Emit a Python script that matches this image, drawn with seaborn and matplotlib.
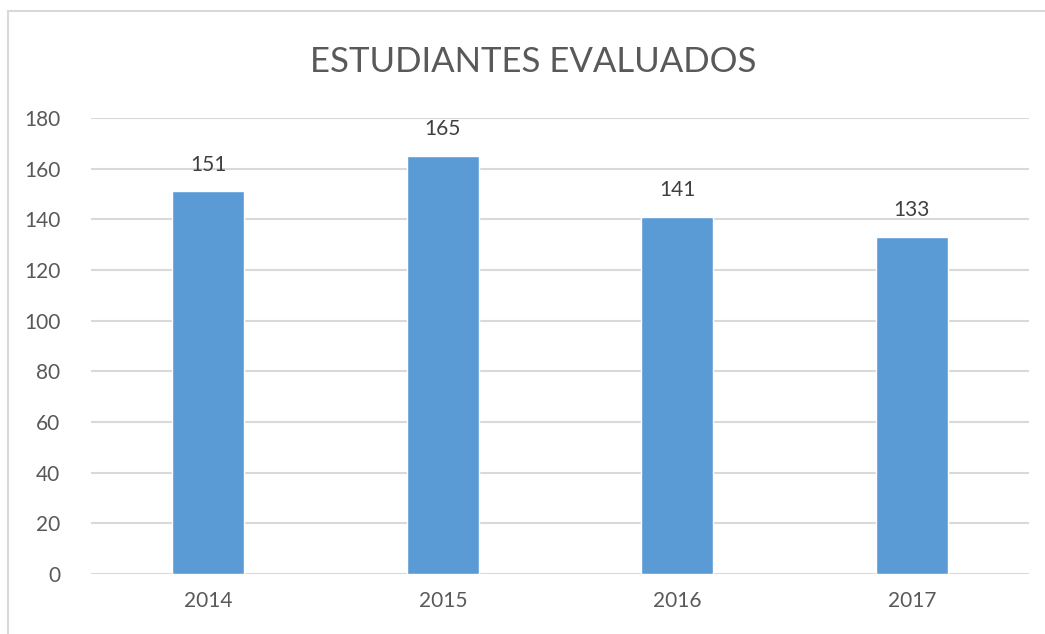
import matplotlib.pyplot as plt
import matplotlib.patches as mpatches
import pandas as pd
import seaborn as sns

years = ["2014", "2015", "2016", "2017"]
students = [151, 165, 141, 133]
y_ticks = [0, 20, 40, 60, 80, 100, 120, 140, 160, 180]

df = pd.DataFrame({"year": years, "students": students})

sns.set_theme(style="white")
plt.rcParams["font.family"] = ["Lato", "DejaVu Sans"]

fig = plt.figure(figsize=(10.45, 6.34), dpi=100)
ax = fig.add_axes([0.0871, 0.0946, 0.8976, 0.7193])

sns.barplot(data=df, x="year", y="students", color="#5B9BD5", width=0.307,
            saturation=1, ax=ax, zorder=3)

ax.set_ylim(0, 180)
ax.set_yticks(y_ticks)
ax.yaxis.grid(True, color="#D9D9D9", linewidth=1.5, zorder=0)
ax.set_axisbelow(True)
for s in ax.spines.values():
    s.set_visible(False)
ax.tick_params(axis="both", length=0, labelsize=15, colors="#595959")
ax.tick_params(axis="y", pad=22)
ax.tick_params(axis="x", pad=12)
ax.set_xlabel("")
ax.set_ylabel("")

for bar, v in zip(ax.patches, students):
    ax.annotate(str(v), (bar.get_x() + bar.get_width() / 2, bar.get_height()),
                xytext=(0, 12), textcoords="offset points",
                ha="center", va="bottom", fontsize=15, color="#404040")

fig.text(0.51, 0.902, "ESTUDIANTES EVALUADOS", ha="center", va="center",
         fontsize=25, color="#595959")

fig.patches.append(mpatches.Rectangle((8 / 1045, -0.01), 1.0, 1 - 11 / 634 + 0.01,
                                      transform=fig.transFigure, fill=False,
                                      edgecolor="#D9D9D9", linewidth=1.5))

fig.savefig("out.png", dpi=100)
